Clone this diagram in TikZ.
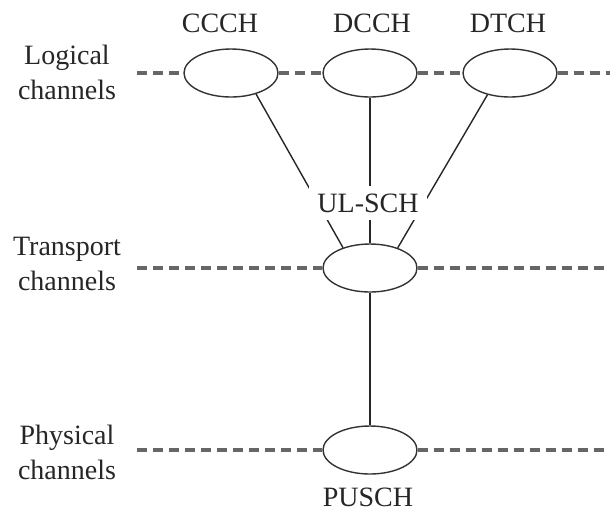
\documentclass[tikz,border=0pt]{standalone}
\usepackage{fontspec}
\setmainfont{Liberation Serif}
\usetikzlibrary{shapes.geometric}

\tikzset{
  chan/.style={ellipse, draw=black!80, fill=white, line width=0.7pt,
    minimum width=47pt, minimum height=24pt, inner sep=0pt},
  chline/.style={draw=black!60, line width=1.6pt, dash pattern=on 5pt off 3pt},
  link/.style={draw=black!85, line width=0.7pt},
  lbl/.style={text=black!85, font=\fontsize{14}{17.5}\selectfont, inner sep=1pt},
  side/.style={lbl, align=center},
}

\begin{document}
\begin{tikzpicture}[x=0.5pt,y=0.5pt,yscale=-1,xscale=1]
  \useasboundingbox (0,0) rectangle (610,511);

  % layer names on the left
  \node[side] (logical)   at (67,72)  {Logical\\channels};
  \node[side] (transport) at (67,264) {Transport\\channels};
  \node[side] (physical)  at (67,452) {Physical\\channels};

  % logical channels
  \node[chan] (ccch) at (231,73) {};
  \node[chan] (dcch) at (370,73) {};
  \node[chan] (dtch) at (510,73) {};
  \node[lbl] (ccchname) at (220,23) {CCCH};
  \node[lbl] (dcchname) at (372,23) {DCCH};
  \node[lbl] (dtchname) at (508,23) {DTCH};

  % transport and physical channels
  \node[chan] (ulsch) at (370,268) {};
  \node[chan] (pusch) at (370,450) {};
  \node[lbl] (puschname) at (368,497) {PUSCH};

  % dashed level lines
  \coordinate (l0) at (137,73);
  \coordinate (l1) at (610,73);
  \coordinate (t0) at (137,268);
  \coordinate (t1) at (610,268);
  \coordinate (p0) at (137,450);
  \coordinate (p1) at (610,450);
  \draw[chline] (l0) -- (ccch) -- (dcch) -- (dtch) -- (l1);
  \draw[chline] (t0) -- (ulsch) -- (t1);
  \draw[chline] (p0) -- (pusch) -- (p1);

  % mapping
  \draw[link] (ccch.-40) -- (ulsch.143);
  \draw[link] (dcch.south) -- (ulsch.north);
  \draw[link] (dtch.224) -- (ulsch.36);
  \draw[link] (ulsch.south) -- (pusch.north);

  \node[lbl, fill=white, inner sep=4pt] (ulschname) at (368,203) {UL-SCH};
\end{tikzpicture}
\end{document}
